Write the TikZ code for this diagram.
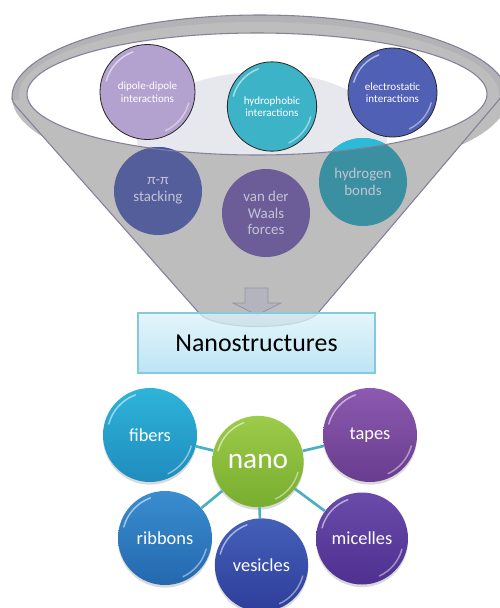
\documentclass[tikz,border=0pt]{standalone}
\usepackage{fontspec}
\setmainfont{Carlito}
\usetikzlibrary{shadows}
\definecolor{funnelgray}{HTML}{BDBDBD}
\definecolor{rimgray}{HTML}{B3B3B6}
\definecolor{rimline}{HTML}{857F98}
\definecolor{liquid}{HTML}{E7E7EE}
\definecolor{fungray}{HTML}{C2C4D4}
\definecolor{linkc}{HTML}{4BAFC3}
\definecolor{cdipole}{HTML}{B3A2CF}
\definecolor{chydro}{HTML}{3DB3C8}
\definecolor{celectro}{HTML}{5060B4}
\definecolor{cpipi}{HTML}{535E9A}
\definecolor{cvdw}{HTML}{6C5C98}
\definecolor{chydrogen}{HTML}{3A8FA1}
\definecolor{cpipib}{HTML}{3A54B6}
\definecolor{chydrogenb}{HTML}{2BBAD8}
\definecolor{boxtop}{HTML}{DDF2FA}
\definecolor{boxbot}{HTML}{A9DDF0}
\definecolor{boxline}{HTML}{85C8DF}
\definecolor{arrowfill}{HTML}{B4B4BE}
\definecolor{arrowline}{HTML}{9494A6}
\newcommand\glossy[2]{%
  \draw[white, opacity=0.55, line width=1.1pt, line cap=round]
    ([shift={(110:#2)}]#1.center) arc[start angle=110, end angle=165, radius=#2];
  \draw[white, opacity=0.45, line width=1.1pt, line cap=round]
    ([shift={(-15:#2)}]#1.center) arc[start angle=-15, end angle=-65, radius=#2];
}
\begin{document}
\begin{tikzpicture}[x=0.75pt,y=-0.75pt,
  funline/.style={draw=rimline, line width=0.8pt},
  topball/.style={circle, draw=black!85, line width=0.6pt, inner sep=0pt,
    minimum size=#1, text=white, align=center,
    font=\fontsize{8.3}{9.3}\selectfont},
  funball/.style={circle, inner sep=0pt, minimum size=#1, text=fungray,
    align=center, font=\fontsize{11.2}{12.6}\selectfont},
  nanoball/.style={circle, inner sep=0pt, minimum size=#1, text=white,
    align=center, font=\fontsize{13.8}{15}\selectfont,
    drop shadow={shadow xshift=0pt, shadow yshift=-2pt, opacity=0.3}},
  link/.style={draw=linkc, line width=2pt}]
\useasboundingbox (0,0) rectangle (500,608);

% ---------- funnel body ----------
\fill[funnelgray] (13,97) -- (16,106) -- (199,313)
  .. controls (213,331) and (303,331) .. (318,313) -- (503,95) -- cycle;
\fill[funnelgray] (260,97) ellipse [x radius=248, y radius=82];
\begin{scope}
  \clip (0,0) rectangle (510,99);
  \fill[rimgray] (260,97) ellipse [x radius=248, y radius=82];
  \fill[funnelgray] (259,95) ellipse [x radius=240, y radius=73];
  \draw[funline] (260,97) ellipse [x radius=248, y radius=82];
\end{scope}
\draw[funline] (12,98) .. controls (12,101) and (14,104) .. (16,106) -- (199,313)
  .. controls (213,331) and (303,331) .. (318,313) -- (503,95);

% inner opening
\fill[white] (257,94) ellipse [x radius=230, y radius=61];
\begin{scope}
  \clip (257,94) ellipse [x radius=230, y radius=61];
  \fill[liquid] (262,138) ellipse [x radius=125, y radius=66];
\end{scope}

% ---------- circles inside the funnel ----------
\node[funball=66pt, fill=cpipi] (pipi) at (158,191) {π-π\\stacking};
\node[funball=66pt, fill=cvdw] (vdw) at (266,213) {van der\\Waals\\forces};
\node[funball=66pt, fill=chydrogen] (hydrogen) at (363,182) {hydrogen\\bonds};
\begin{scope}
  \clip (257,94) ellipse [x radius=230, y radius=61];
  \fill[cpipib] (pipi.center) circle [radius=33pt];
  \fill[chydrogenb] (hydrogen.center) circle [radius=33pt];
\end{scope}
\draw[funline] (257,94) ellipse [x radius=230, y radius=61];

% ---------- top row ----------
\node[topball=71.25pt, fill=cdipole] (dipole) at (147.5,92) {dipole-dipole\\interactions};
\node[topball=67pt, fill=chydro] (hydro) at (272,106.5) {hydrophobic\\interactions};
\node[topball=66.75pt, fill=celectro] (electro) at (392.5,92.5) {electrostatic\\interactions};
\glossy{dipole}{32pt}
\glossy{hydro}{30pt}
\glossy{electro}{30pt}

% ---------- arrow ----------
\draw[fill=arrowfill, draw=arrowline, line width=0.6pt]
  (245,288) -- (268,288) -- (268,303) -- (281,303) -- (257,315)
  -- (233,303) -- (245,303) -- cycle;

% ---------- Nanostructures box ----------
\node[draw=boxline, line width=0.8pt, top color=boxtop, bottom color=boxbot,
  fill opacity=0.78, text opacity=1, minimum width=177.75pt, minimum height=45pt,
  inner sep=0pt, font=\fontsize{19.4}{22}\selectfont, text=black]
  (nanostr) at (256.5,343) {Nanostructures};

% ---------- nano cluster ----------
\node[nanoball=70.5pt, top color={rgb,255:red,46;green,180;blue,217}, bottom color={rgb,255:red,31;green,140;blue,190}]
  (fibers) at (150,435) {fibers};
\node[nanoball=70.5pt, top color={rgb,255:red,140;green,90;blue,176}, bottom color={rgb,255:red,104;green,60;blue,142}]
  (tapes) at (370,435) {tapes};
\node[nanoball=70.5pt, top color={rgb,255:red,58;green,141;blue,208}, bottom color={rgb,255:red,36;green,104;blue,174}]
  (ribbons) at (165,538) {ribbons};
\node[nanoball=70pt, top color={rgb,255:red,68;green,96;blue,184}, bottom color={rgb,255:red,46;green,62;blue,154}]
  (vesicles) at (261.5,565) {vesicles};
\node[nanoball=69pt, top color={rgb,255:red,106;green,75;blue,170}, bottom color={rgb,255:red,78;green,48;blue,144}]
  (micelles) at (362,538.5) {micelles};
\node[nanoball=68.5pt, top color={rgb,255:red,157;green,203;blue,74}, bottom color={rgb,255:red,120;green,173;blue,46},
  font=\fontsize{22}{24}\selectfont]
  (nano) at (258,461.5) {nano};
\draw[link] (nano) -- (fibers);
\draw[link] (nano) -- (tapes);
\draw[link] (nano) -- (ribbons);
\draw[link] (nano) -- (vesicles);
\draw[link] (nano) -- (micelles);
\glossy{fibers}{32pt}
\glossy{tapes}{32pt}
\glossy{ribbons}{32pt}
\glossy{vesicles}{32pt}
\glossy{micelles}{31pt}
\glossy{nano}{31pt}
\end{tikzpicture}
\end{document}
